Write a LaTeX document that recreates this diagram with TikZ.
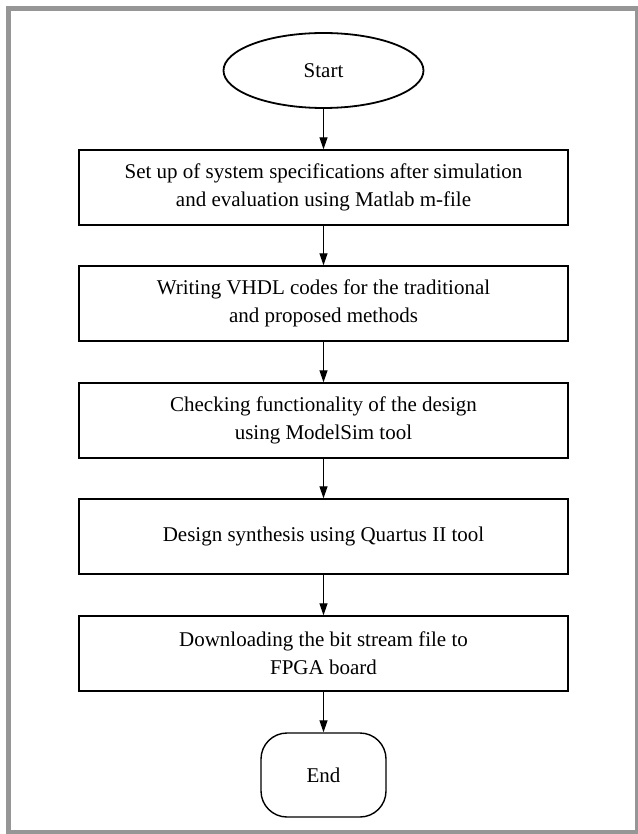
\documentclass[tikz,border=0pt]{standalone}
\usepackage{fontspec}
\setmainfont{Liberation Serif}
\usetikzlibrary{shapes.geometric,arrows.meta}
\begin{document}
\begin{tikzpicture}[x=1pt,y=-1pt,
  txt/.style={font=\fontsize{21}{28}\selectfont,align=center},
  procbox/.style={txt,draw=black,line width=1.4pt,minimum width=489pt,minimum height=75pt,inner sep=0pt},
  startnode/.style={txt,ellipse,draw=black,line width=1.8pt,minimum width=200pt,minimum height=75pt,inner sep=0pt},
  endnode/.style={txt,draw=black,line width=1.4pt,rounded corners=26pt,minimum width=125pt,minimum height=84pt,inner sep=0pt},
  flow/.style={line width=1.2pt,-{Triangle[length=12pt,width=8pt]}},
  frame/.style={draw=black!41,line width=5pt}]
\useasboundingbox (0,0) rectangle (637,834);
\fill[white] (0,0) rectangle (637,834);
\draw[frame] (8.5,8.5) rectangle (637.5,832.5);
\node[startnode] (start) at (323.5,70.5) {Start};
\node[procbox] (b1) at (323.5,187.5) {Set up of system specifications after simulation\\and evaluation using Matlab m-file};
\node[procbox] (b2) at (323.5,303.5) {Writing VHDL codes for the traditional\\and proposed methods};
\node[procbox] (b3) at (323.5,420.5) {Checking functionality of the design\\using ModelSim tool};
\node[procbox] (b4) at (323.5,536.5) {Design synthesis using Quartus II tool};
\node[procbox] (b5) at (323.5,653.5) {Downloading the bit stream file to\\FPGA board};
\node[endnode] (end) at (323.5,775) {End};
\draw[flow] (start) -- (b1);
\draw[flow] (b1) -- (b2);
\draw[flow] (b2) -- (b3);
\draw[flow] (b3) -- (b4);
\draw[flow] (b4) -- (b5);
\draw[flow] (b5) -- (end);
\end{tikzpicture}
\end{document}
